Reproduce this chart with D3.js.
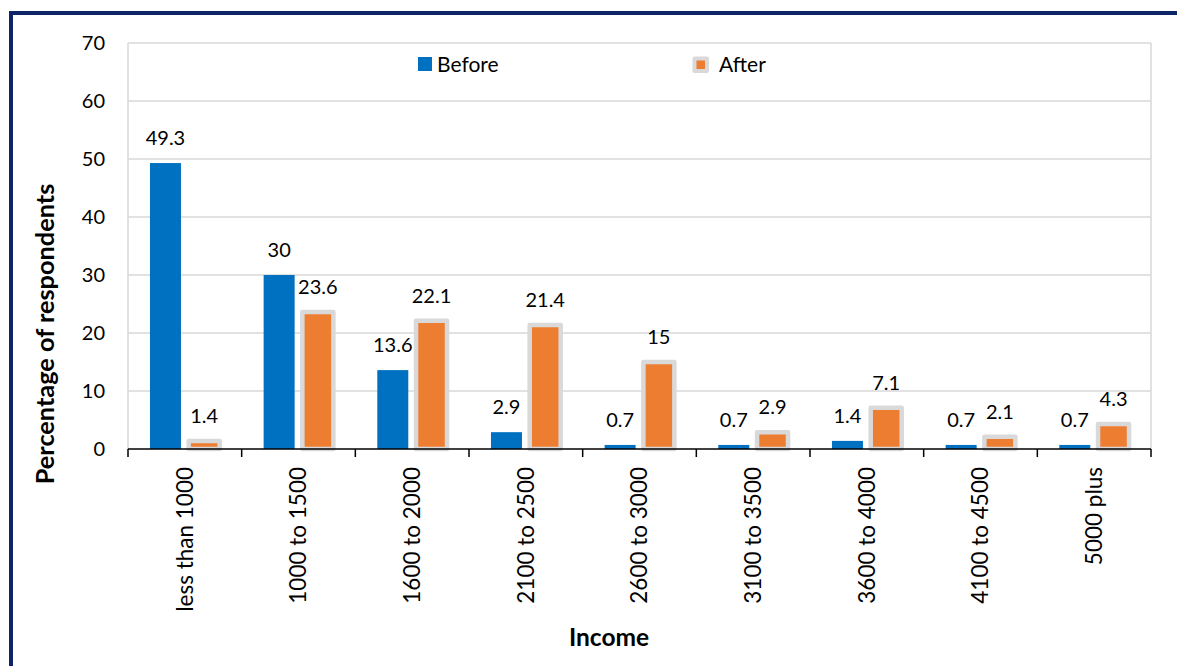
<!DOCTYPE html>
<html>
<head>
<meta charset="utf-8">
<script src="https://cdn.jsdelivr.net/npm/d3@7"></script>
<style>
  html, body { margin: 0; padding: 0; background: #fff; }
  svg { display: block; font-family: Lato, "Open Sans", sans-serif; }
</style>
</head>
<body>
<svg id="chart" width="1177" height="666"></svg>
<script>
// Income brackets and share of respondents (%) before / after
const categories = ["less than 1000", "1000 to 1500", "1600 to 2000", "2100 to 2500",
  "2600 to 3000", "3100 to 3500", "3600 to 4000", "4100 to 4500", "5000 plus"];
const seriesNames = ["Before", "After"];
const before = [49.3, 30, 13.6, 2.9, 0.7, 0.7, 1.4, 0.7, 0.7];
const after = [1.4, 23.6, 22.1, 21.4, 15, 2.9, 7.1, 2.1, 4.3];
const yTicks = [0, 10, 20, 30, 40, 50, 60, 70];

const W = 1177, H = 666;
const plot = { left: 128, right: 1151, top: 43, bottom: 449 };
const colors = { Before: "#0070c0", After: "#ed7d31" };
const outline = "#d9d9d9";

const svg = d3.select("#chart");

// frame lines (top and left)
svg.append("rect").attr("x", 9).attr("y", 11).attr("width", W - 9).attr("height", 4).attr("fill", "#0b2565");
svg.append("rect").attr("x", 9).attr("y", 11).attr("width", 4).attr("height", H - 11).attr("fill", "#0b2565");

const y = d3.scaleLinear().domain([0, 70]).range([plot.bottom, plot.top]);
const x = d3.scaleBand().domain(categories).range([plot.left, plot.right]).padding(0);
const x1 = d3.scaleBand().domain(seriesNames).range([0, x.bandwidth()])
  .paddingInner(0.2).paddingOuter(0.567);

// gridlines
svg.append("g").selectAll("line").data(yTicks.filter(d => d > 0)).join("line")
  .attr("x1", plot.left).attr("x2", plot.right)
  .attr("y1", d => y(d)).attr("y2", d => y(d))
  .attr("stroke", outline).attr("stroke-width", 1.5);
// plot side borders
[plot.left, plot.right].forEach(px => {
  svg.append("line").attr("x1", px).attr("x2", px).attr("y1", plot.top).attr("y2", plot.bottom)
    .attr("stroke", outline).attr("stroke-width", 1.5);
});

// y axis labels
svg.append("g").selectAll("text").data(yTicks).join("text")
  .attr("x", 105).attr("y", d => y(d)).attr("dy", "0.36em")
  .attr("text-anchor", "end").attr("font-size", 20).attr("fill", "#000")
  .text(d => d);

const rows = categories.map((c, i) => ({ cat: c, Before: before[i], After: after[i] }));

// bars
const groups = svg.append("g").selectAll("g").data(rows).join("g")
  .attr("transform", d => `translate(${x(d.cat)},0)`);

groups.append("rect")
  .attr("x", x1("Before")).attr("width", x1.bandwidth())
  .attr("y", d => y(d.Before)).attr("height", d => y(0) - y(d.Before))
  .attr("fill", colors.Before);

groups.append("rect")
  .attr("x", x1("After")).attr("width", x1.bandwidth())
  .attr("y", d => y(d.After)).attr("height", d => y(0) - y(d.After))
  .attr("fill", colors.After)
  .attr("stroke", outline).attr("stroke-width", 4.5).attr("stroke-linejoin", "round");

// value labels
seriesNames.forEach(s => {
  groups.append("text")
    .attr("x", x1(s) + x1.bandwidth() / 2)
    .attr("y", d => y(d[s]) - 18)
    .attr("text-anchor", "middle").attr("font-size", 20).attr("fill", "#000")
    .text(d => d[s]);
});

// x axis
const xAxis = svg.append("g");
xAxis.append("line").attr("x1", plot.left).attr("x2", plot.right)
  .attr("y1", plot.bottom).attr("y2", plot.bottom)
  .attr("stroke", "#000").attr("stroke-width", 1.5);
const bounds = categories.map(c => x(c)).concat([plot.right]);
xAxis.selectAll("line.tick").data(bounds).join("line").attr("class", "tick")
  .attr("x1", d => d).attr("x2", d => d)
  .attr("y1", plot.bottom).attr("y2", plot.bottom + 8)
  .attr("stroke", "#000").attr("stroke-width", 1.5);
xAxis.selectAll("text").data(categories).join("text")
  .attr("transform", d => `translate(${x(d) + x.bandwidth() / 2},467) rotate(-90)`)
  .attr("dy", "0.35em").attr("text-anchor", "end")
  .attr("font-size", 22.5).attr("fill", "#000")
  .text(d => d);

// axis titles
svg.append("text")
  .attr("transform", "translate(45,334) rotate(-90)")
  .attr("dy", "0.35em").attr("text-anchor", "middle")
  .attr("font-size", 25.3).attr("font-weight", "bold").attr("fill", "#000")
  .text("Percentage of respondents");
svg.append("text")
  .attr("x", 609).attr("y", 646).attr("text-anchor", "middle")
  .attr("font-size", 24.5).attr("font-weight", "bold").attr("fill", "#000")
  .text("Income");

// legend
const legend = svg.append("g");
legend.append("rect").attr("x", 418).attr("y", 57).attr("width", 14).attr("height", 14)
  .attr("fill", colors.Before);
legend.append("text").attr("x", 437).attr("y", 72).attr("font-size", 21).text("Before");
legend.append("rect").attr("x", 694.5).attr("y", 58.5).attr("width", 12.5).attr("height", 12.5)
  .attr("fill", colors.After).attr("stroke", outline).attr("stroke-width", 4)
  .attr("stroke-linejoin", "round");
legend.append("text").attr("x", 719).attr("y", 72).attr("font-size", 21).text("After");
</script>
</body>
</html>
